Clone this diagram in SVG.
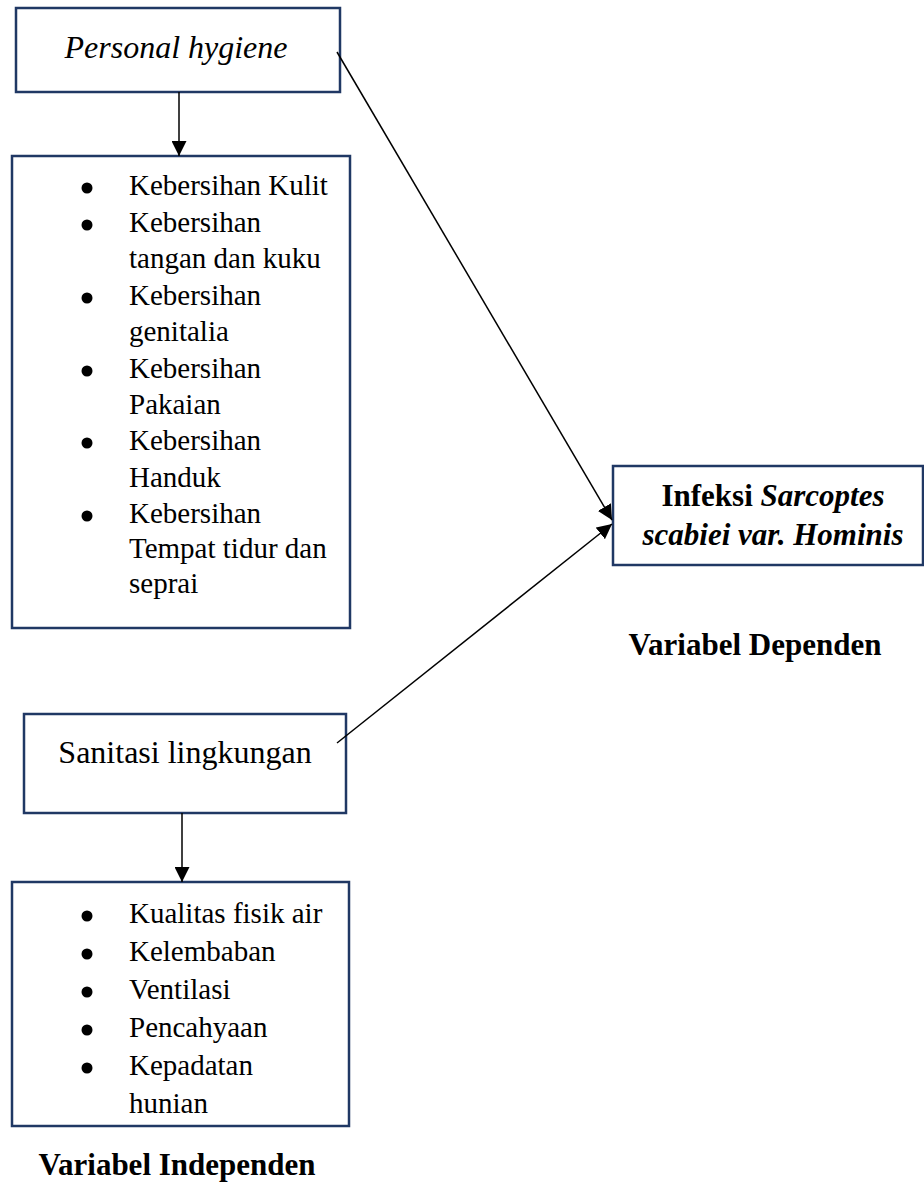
<svg xmlns="http://www.w3.org/2000/svg" width="924" height="1184" viewBox="0 0 924 1184">
<defs>
<style>
.box{fill:#fff;stroke:#203864;stroke-width:2.5}
.t{font-family:"Liberation Serif","Times New Roman",serif;fill:#000}
.h{font-size:32px}
.li{font-size:29px}
.b{font-size:31px;font-weight:bold}
.conn{stroke:#000;stroke-width:1.5;fill:none}
.dot{fill:#000}
</style>
<marker id="ah" viewBox="0 0 15 15" refX="15" refY="7.5" markerWidth="15" markerHeight="15" markerUnits="userSpaceOnUse" orient="auto">
<path d="M0,0 L15,7.5 L0,15 Z" fill="#000"/>
</marker>
</defs>
<rect width="924" height="1184" fill="#fff"/>

<g id="personal-hygiene">
<rect class="box" x="16" y="8" width="324" height="84"/>
<text class="t h" x="176" y="58" text-anchor="middle" font-style="italic">Personal hygiene</text>
</g>

<g id="ph-items">
<rect class="box" x="12" y="156" width="338" height="472"/>
<g class="dot">
<circle cx="87" cy="188" r="5.5"/>
<circle cx="87" cy="225" r="5.5"/>
<circle cx="87" cy="298" r="5.5"/>
<circle cx="87" cy="371" r="5.5"/>
<circle cx="87" cy="443" r="5.5"/>
<circle cx="87" cy="516" r="5.5"/>
</g>
<g class="t li">
<text x="129" y="195">Kebersihan Kulit</text>
<text x="129" y="232">Kebersihan</text>
<text x="129" y="268">tangan dan kuku</text>
<text x="129" y="305">Kebersihan</text>
<text x="129" y="341">genitalia</text>
<text x="129" y="378">Kebersihan</text>
<text x="129" y="414">Pakaian</text>
<text x="129" y="450">Kebersihan</text>
<text x="129" y="487">Handuk</text>
<text x="129" y="523">Kebersihan</text>
<text x="129" y="558">Tempat tidur dan</text>
<text x="129" y="593">seprai</text>
</g>
</g>

<g id="sanitasi">
<rect class="box" x="24" y="714" width="322" height="99"/>
<text class="t h" x="185" y="763" text-anchor="middle">Sanitasi lingkungan</text>
</g>

<g id="sanitasi-items">
<rect class="box" x="12" y="882" width="337" height="244"/>
<g class="dot">
<circle cx="87" cy="916" r="5.5"/>
<circle cx="87" cy="954" r="5.5"/>
<circle cx="87" cy="992" r="5.5"/>
<circle cx="87" cy="1030" r="5.5"/>
<circle cx="87" cy="1068" r="5.5"/>
</g>
<g class="t li">
<text x="129" y="923">Kualitas fisik air</text>
<text x="129" y="961">Kelembaban</text>
<text x="129" y="999">Ventilasi</text>
<text x="129" y="1037">Pencahyaan</text>
<text x="129" y="1075">Kepadatan</text>
<text x="129" y="1113">hunian</text>
</g>
</g>

<g id="infeksi">
<rect class="box" x="613" y="466" width="310" height="99"/>
<text class="t b" x="773" y="506" text-anchor="middle">Infeksi <tspan font-style="italic">Sarcoptes</tspan></text>
<text class="t b" x="773" y="545" text-anchor="middle" font-style="italic">scabiei var. Hominis</text>
</g>

<g id="label-dependen">
<text class="t b" x="755" y="655" text-anchor="middle">Variabel Dependen</text>
</g>

<g id="label-independen">
<text class="t b" x="177" y="1175" text-anchor="middle">Variabel Independen</text>
</g>

<g id="connectors">
<line class="conn" x1="179" y1="92" x2="179" y2="156" marker-end="url(#ah)"/>
<line class="conn" x1="182" y1="813" x2="182" y2="882" marker-end="url(#ah)"/>
<line class="conn" x1="337" y1="52" x2="612" y2="520" marker-end="url(#ah)"/>
<line class="conn" x1="337" y1="743" x2="612" y2="524" marker-end="url(#ah)"/>
</g>
</svg>
